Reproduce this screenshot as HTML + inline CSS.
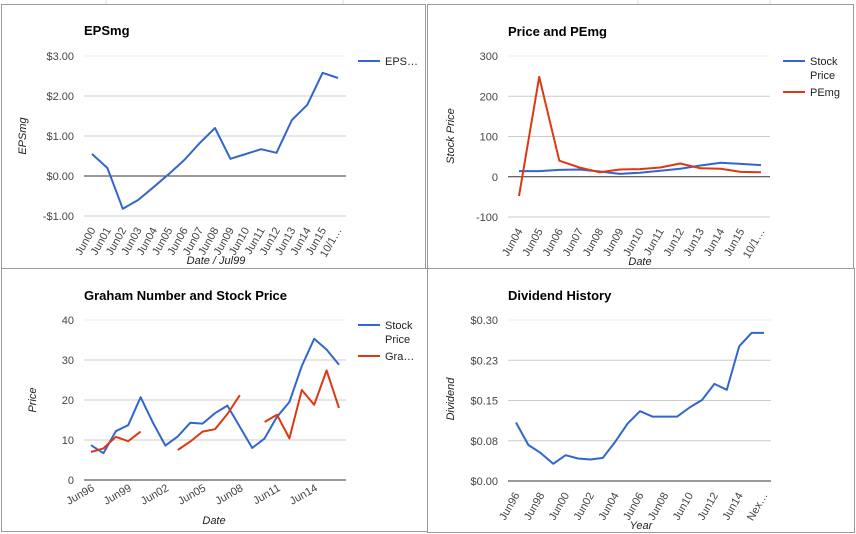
<!DOCTYPE html>
<html><head><meta charset="utf-8"><style>
html,body{margin:0;padding:0;background:#fff;}
body{width:856px;height:534px;position:relative;overflow:hidden;font-family:"Liberation Sans",Arial,sans-serif;}
svg{position:absolute;left:0;top:0;}
</style></head><body>
<svg id="s" width="856" height="534"></svg>
<script>
const epsCats=["Jun00","Jun01","Jun02","Jun03","Jun04","Jun05","Jun06","Jun07","Jun08","Jun09","Jun10","Jun11","Jun12","Jun13","Jun14","Jun15","10/1…"];
const epsVals=[0.55,0.2,-0.82,-0.6,-0.28,0.05,0.4,0.82,1.2,0.43,0.55,0.67,0.58,1.4,1.78,2.58,2.45];
const epsTicks=[-1,0,1,2,3];
const peCats=["Jun04","Jun05","Jun06","Jun07","Jun08","Jun09","Jun10","Jun11","Jun12","Jun13","Jun14","Jun15","10/1…"];
const peStock=[14,14,17,18,13,7,10,15,20,28,35,32,29];
const pePE=[-48,248,40,23,11,18,19,23,33,21,20,12,11];
const peTicks=[-100,0,100,200,300];
const grCats=["Jun96","","","Jun99","","","Jun02","","","Jun05","","","Jun08","","","Jun11","","","Jun14","",""];
const grStock=[8.7,6.7,12.2,13.7,20.7,14.3,8.6,10.9,14.3,14.1,16.7,18.6,13.3,8,10.4,15.8,19.5,28.5,35.3,32.6,28.8];
const grGraham=[7,7.9,10.8,9.7,12.1,null,null,7.5,9.6,12.1,12.7,16.5,21.2,null,14.5,16.3,10.4,22.5,18.8,27.4,18];
const grTicks=[0,10,20,30,40];
const dvCats=["Jun96","","Jun98","","Jun00","","Jun02","","Jun04","","Jun06","","Jun08","","Jun10","","Jun12","","Jun14","","Nex…"];
const dvVals=[0.109,0.067,0.052,0.032,0.048,0.042,0.040,0.043,0.073,0.107,0.130,0.120,0.120,0.120,0.137,0.151,0.181,0.170,0.251,0.276,0.276];
const dvTicks=[0,0.075,0.15,0.225,0.30];
const dvTickLabels=["$0.00","$0.08","$0.15","$0.23","$0.30"];

const NS="http://www.w3.org/2000/svg";
const svg=document.getElementById('s');
function mk(tag,attrs,parent,text){const e=document.createElementNS(NS,tag);for(const k in attrs)e.setAttribute(k,attrs[k]);if(text!==undefined)e.textContent=text;(parent||svg).appendChild(e);return e;}

// spreadsheet background lines
[106,343,638,770].forEach(x=>{const l=mk('line',{x1:x,y1:0,x2:x,y2:4,stroke:'#ddd'});});

function chart(o){
  const g=mk('g',{});
  
  
  const p=mk('rect',{x:o.box[0]+0.5,y:o.box[1]+0.5,width:o.box[2],height:o.box[3],fill:'#fff',stroke:'#9a9a9a'},g);
  
  
  const t=mk('text',{x:o.L,y:o.titleY,'font-size':13,'font-weight':'bold',fill:'#000'},g,o.title);
  
  
  const yv=v=>o.y0+(v-o.ymin)/(o.ymax-o.ymin)*(o.y1-o.y0);
  const n=o.cats.length;
  const xv=i=>o.x0+i*(o.x1-o.x0)/(n-1);
  o.ticks.forEach((tv,i)=>{
    const y=yv(tv);
    const isZero=Math.abs(tv)<1e-9;
    const gl=mk('line',{x1:o.L,x2:o.R,y1:y,y2:y,stroke:isZero?'#333':(i===o.ticks.length-1?'#eee':'#ccc'),'stroke-width':1},g);
    
    
    const lab=o.tickLabels?o.tickLabels[i]:o.fmt(tv);
    const tl=mk('text',{x:o.L-10,y:y+4,'font-size':11,fill:'#444','text-anchor':'end'},g,lab);
    
    
  });
  o.cats.forEach((c,i)=>{
    if(!c)return;
    const x=xv(i);const y=o.y0+(o.labDy||6);
    const tl=mk('text',{x:x+4,y:y+8,'font-size':11,fill:'#444','text-anchor':'end',transform:`rotate(${o.rot} ${x+4} ${y+8})`},g,c);
    
    
  });
  o.series.forEach(s=>{
    let d='';let pen=false;
    s.vals.forEach((v,i)=>{if(v===null){pen=false;return;}d+=(pen?'L':'M')+xv(i).toFixed(1)+' '+yv(v).toFixed(1);pen=true;});
    const pl=mk('path',{d:d,fill:'none',stroke:s.color,'stroke-width':2,'stroke-linejoin':'round'},g);
    
    
  });
  (o.legend||[]).forEach(l=>{
    const ll=mk('line',{x1:l.x,x2:l.x+22,y1:l.y,y2:l.y,stroke:l.color,'stroke-width':2},g);
    
    
    l.lines.forEach((tx,k)=>{
      const lt=mk('text',{x:l.x+27,y:l.y+4+k*14,'font-size':11,fill:'#222'},g,tx);
      
      
    });
  });
  const yt=mk('text',{x:o.ytx,y:o.yty,'font-size':11,'font-style':'italic',fill:'#222','text-anchor':'middle',transform:`rotate(-90 ${o.ytx} ${o.yty})`},g,o.ytitle);
  
  
  const xt=mk('text',{x:o.xtx,y:o.xty,'font-size':11,'font-style':'italic',fill:'#222','text-anchor':'middle'},g,o.xtitle);
  
  
}

chart({name:'epsmg-chart',box:[1,4,424,264],title:'EPSmg',titleY:35,L:84,R:346,y0:216,y1:56,ymin:-1,ymax:3,x0:92,x1:338,
  cats:epsCats,ticks:epsTicks,fmt:v=>(v<0?'-$':'$')+Math.abs(v).toFixed(2),rot:-60,
  series:[{name:'eps-line',vals:epsVals,color:'#3366cc'}],
  legend:[{x:358,y:61,color:'#3366cc',lines:['EPS…']}],ytitle:'EPSmg',ytx:26,yty:136,xtitle:'Date / Jul99',xtx:216,xty:264});

chart({name:'price-pemg-chart',box:[427,4,426,264],title:'Price and PEmg',titleY:36,L:508,R:770,y0:217,y1:56,ymin:-100,ymax:300,x0:519,x1:761,
  cats:peCats,ticks:peTicks,fmt:v=>String(v),rot:-60,
  series:[{name:'stock-price-line',vals:peStock,color:'#3366cc'},{name:'pemg-line',vals:pePE,color:'#dc3912'}],
  legend:[{x:783,y:61,color:'#3366cc',lines:['Stock','Price']},{x:783,y:92,color:'#dc3912',lines:['PEmg']}],
  ytitle:'Stock Price',ytx:454,yty:136,xtitle:'Date',xtx:640,xty:265});

chart({name:'graham-chart',box:[1,268,426,263],title:'Graham Number and Stock Price',titleY:300,L:84,R:346,y0:480,y1:320,ymin:0,ymax:40,x0:91,x1:339,
  cats:grCats,ticks:grTicks,fmt:v=>String(v),rot:-30,labDy:2,
  series:[{name:'stock-price-line',vals:grStock,color:'#3366cc'},{name:'graham-number-line',vals:grGraham,color:'#dc3912'}],
  legend:[{x:358,y:325,color:'#3366cc',lines:['Stock','Price']},{x:358,y:356,color:'#dc3912',lines:['Gra…']}],
  ytitle:'Price',ytx:36,yty:400,xtitle:'Date',xtx:214,xty:524});

chart({name:'dividend-chart',box:[427,268,427,264],title:'Dividend History',titleY:300,L:508,R:771,y0:481,y1:320,ymin:0,ymax:0.30,x0:516,x1:764,
  cats:dvCats,ticks:dvTicks,tickLabels:dvTickLabels,rot:-60,
  series:[{name:'dividend-line',vals:dvVals,color:'#3366cc'}],
  ytitle:'Dividend',ytx:454,yty:399,xtitle:'Year',xtx:641,xty:529});
</script>
</body></html>
